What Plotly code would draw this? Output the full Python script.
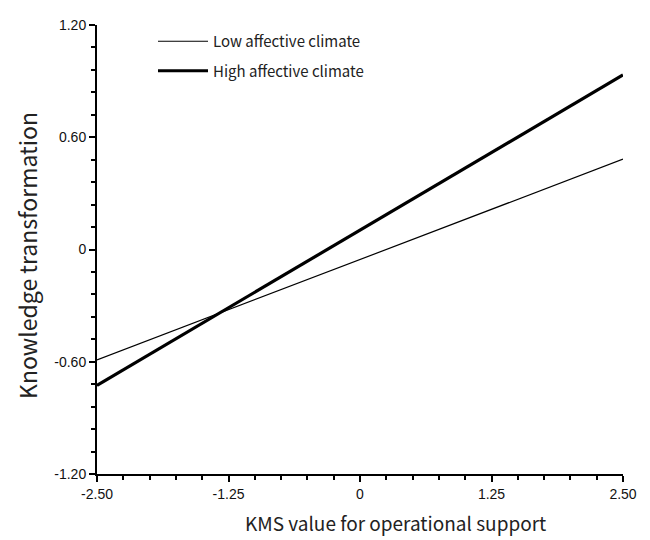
import plotly.graph_objects as go

x_vals = [-2.5, 2.5]
low_vals = [-0.59, 0.483]
high_vals = [-0.726, 0.933]
series_names = ["Low affective climate", "High affective climate"]

x_tickvals = [-2.5, -1.25, 0, 1.25, 2.5]
x_ticktext = ["-2.50", "-1.25", "0", "1.25", "2.50"]
y_tickvals = [1.2, 0.6, 0, -0.6, -1.2]
y_ticktext = ["1.20", "0.60", "0", "-0.60", "-1.20"]
x_title = "KMS value for operational support"
y_title = "Knowledge transformation"

fig = go.Figure()
fig.add_trace(go.Scatter(x=x_vals, y=low_vals, mode="lines", name=series_names[0],
                         line=dict(color="black", width=1.2), legendgroup="a"))
fig.add_trace(go.Scatter(x=x_vals, y=high_vals, mode="lines", name=series_names[1],
                         line=dict(color="black", width=3.2), legendgroup="b"))

kr_font = "Noto Sans CJK KR, Noto Sans, sans-serif"
tick_font = dict(family="Liberation Sans, Arial, sans-serif", size=14, color="#111")

fig.update_layout(
    width=642, height=532,
    margin=dict(l=89, r=27, t=9, b=66),
    plot_bgcolor="white", paper_bgcolor="white",
    showlegend=True,
    legend=dict(x=(145 - 89) / 526, y=1.0, xanchor="left", yanchor="top",
                font=dict(family=kr_font, size=15, color="#222"),
                bgcolor="rgba(0,0,0,0)", tracegroupgap=7, traceorder="grouped",
                itemwidth=50),
    xaxis=dict(range=[-2.5, 2.5], tickvals=x_tickvals, ticktext=x_ticktext,
               showline=True, linecolor="black", linewidth=2, ticks="outside",
               ticklen=6, tickwidth=1.5, tickcolor="black", showgrid=False, zeroline=False,
               tickfont=tick_font,
               minor=dict(dtick=0.25, tick0=0, ticks="outside", ticklen=4, tickwidth=1.5, tickcolor="black", showgrid=False)),
    yaxis=dict(range=[-1.2, 1.2], tickvals=y_tickvals, ticktext=y_ticktext,
               showline=True, linecolor="black", linewidth=2, ticks="outside",
               ticklen=6, tickwidth=1.5, tickcolor="black", showgrid=False, zeroline=False,
               tickfont=tick_font,
               minor=dict(dtick=0.12, tick0=0, ticks="outside", ticklen=4, tickwidth=1.5, tickcolor="black", showgrid=False)),
    annotations=[
        dict(text=x_title, xref="paper", yref="paper", x=(387 - 89) / 526, y=0,
             xanchor="center", yanchor="middle", yshift=-48, showarrow=False,
             font=dict(family=kr_font, size=19, color="#222")),
        dict(text=y_title, xref="paper", yref="paper", x=0, y=1 - (244 - 9) / 457,
             xanchor="center", yanchor="middle", xshift=-70, textangle=-90, showarrow=False,
             font=dict(family=kr_font, size=23, color="#222")),
    ],
)

fig.write_html("out.html")
